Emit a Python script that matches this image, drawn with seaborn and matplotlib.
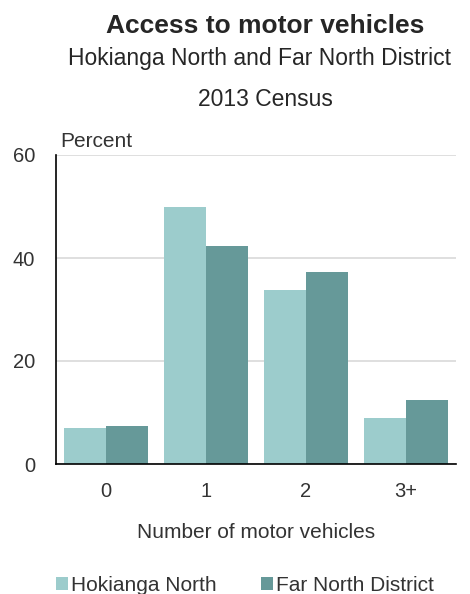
import matplotlib.pyplot as plt
import seaborn as sns
import pandas as pd

categories = ['0', '1', '2', '3+']
hokianga_north = [6.9, 50.0, 33.7, 8.9]
far_north = [7.4, 42.3, 37.2, 12.4]
series = ['Hokianga North', 'Far North District']
colours = ['#9ccccc', '#669999']

df = pd.DataFrame({
    'Vehicles': categories * 2,
    'Percent': hokianga_north + far_north,
    'Area': [series[0]] * 4 + [series[1]] * 4,
})

sns.set_style('white')
plt.rcParams['font.family'] = ['Liberation Sans', 'DejaVu Sans']

fig = plt.figure(figsize=(4.7, 5.94), dpi=100)
ax = fig.add_axes([56 / 470, 1 - 464 / 594, 400 / 470, 309 / 594])

sns.barplot(data=df, x='Vehicles', y='Percent', hue='Area', order=categories,
            hue_order=series, palette=colours, width=0.84, saturation=1,
            edgecolor='none', ax=ax, legend=True)

ax.set_ylim(0, 60)
ax.set_xlim(-0.5, 3.5)
ax.set_yticks([0, 20, 40, 60])
ax.yaxis.grid(True, color='#d9d9d9', linewidth=1.2)
ax.set_axisbelow(True)
for s in ['top', 'right']:
    ax.spines[s].set_visible(False)
ax.spines['left'].set_color('black')
ax.spines['bottom'].set_color('black')
ax.spines['left'].set_linewidth(1.2)
ax.spines['bottom'].set_linewidth(1.2)
ax.tick_params(axis='both', length=0, labelsize=14.5, labelcolor='#333333')
ax.tick_params(axis='y', pad=15)
ax.tick_params(axis='x', pad=13)
ax.set_ylabel('')
ax.set_xlabel('Number of motor vehicles', fontsize=15, color='#333333',
              labelpad=16)

ax.text(4 / 400, 1 + 8 / 309, 'Percent', transform=ax.transAxes, fontsize=15,
        color='#333333', va='baseline', ha='left')

fig.text(265 / 470, 1 - 33 / 594, 'Access to motor vehicles', ha='center',
         va='baseline', fontsize=19, fontweight='bold')
fig.text(260 / 470, 1 - 65.5 / 594, 'Hokianga North and Far North District',
         ha='center', va='baseline', fontsize=16.5)
fig.text(265 / 470, 1 - 106.5 / 594, '2013 Census', ha='center', va='baseline',
         fontsize=16.5)

handles, labels = ax.get_legend_handles_labels()
ax.legend(handles, labels, loc='center', bbox_to_anchor=(0.4725, -0.392),
          ncol=2, frameon=False, fontsize=15, handlelength=0.58,
          handleheight=0.58, handletextpad=0.15, columnspacing=2.1,
          borderpad=0, labelcolor='#333333')

fig.savefig('out.png', dpi=100)
